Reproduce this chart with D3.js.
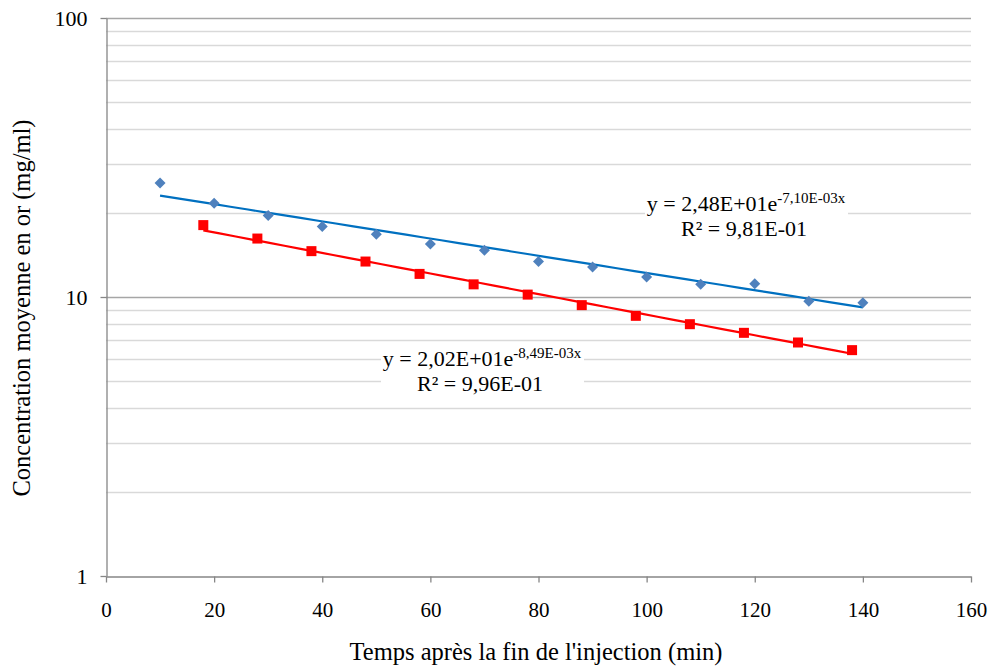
<!DOCTYPE html>
<html>
<head>
<meta charset="utf-8">
<script src="https://cdn.jsdelivr.net/npm/d3@7"></script>
<style>
  body { margin: 0; background: #fff; }
  text { font-family: "Liberation Serif", "Times New Roman", serif; fill: #000; }
</style>
</head>
<body>
<div id="chart"></div>
<script>
// blue series (diamonds)
const blueTimes = [10, 20, 30, 40, 50, 60, 70, 80, 90, 100, 110, 120, 130, 140];
const blueValues = [25.6, 21.7, 19.6, 17.9, 16.8, 15.5, 14.7, 13.4, 12.8, 11.8, 11.1, 11.15, 9.66, 9.53];
// red series (squares)
const redTimes = [18, 28, 38, 48, 58, 68, 78, 88, 98, 108, 118, 128, 138];
const redValues = [18.1, 16.2, 14.6, 13.4, 12.1, 11.1, 10.2, 9.35, 8.56, 7.99, 7.44, 6.87, 6.45];
// exponential fits y = a e^(b x)
const blueFit = {a: 24.8, b: -7.10e-3};
const redFit = {a: 20.2, b: -8.49e-3};
const xTicks = [0, 20, 40, 60, 80, 100, 120, 140, 160];
const yTicks = [1, 10, 100];

const width = 992, height = 666,
      margin = ({top: 18, right: 21, bottom: 90, left: 106});

const svg = d3.select("#chart")
    .append("svg")
    .attr("width", width)
    .attr("height", height);

const x = d3.scaleLinear()
    .domain([0, 160])
    .range([margin.left, width - margin.right]);

const y = d3.scaleLog()
    .domain([1, 100])
    .range([height - margin.bottom, margin.top]);

// gridlines: minor first, then decades
let minor = [];
for (let d of [1, 10]) for (let k = 2; k <= 9; k++) minor.push(d * k);

svg.append("g")
    .selectAll("line")
    .data(minor)
    .join("line")
    .attr("x1", x(0)).attr("x2", x(160))
    .attr("y1", d => Math.round(y(d)) + 0.5).attr("y2", d => Math.round(y(d)) + 0.5)
    .attr("stroke", "#d9d9d9")
    .attr("stroke-width", 1.3);

svg.append("g")
    .selectAll("line")
    .data([10, 100])
    .join("line")
    .attr("x1", x(0)).attr("x2", x(160))
    .attr("y1", d => Math.round(y(d)) + 0.5).attr("y2", d => Math.round(y(d)) + 0.5)
    .attr("stroke", "#a6a6a6")
    .attr("stroke-width", 1.3);

// axes
const xAxis = g => g
    .attr("transform", `translate(0,${Math.round(y(1)) + 0.5})`)
    .call(d3.axisBottom(x).tickValues(xTicks).tickSize(6).tickPadding(20).tickSizeOuter(0))
    .call(g => g.selectAll(".domain, line").attr("stroke", "#868686").attr("stroke-width", 1.3))
    .call(g => g.selectAll("text").attr("font-size", 21).attr("font-family", "Liberation Serif"));

const yAxis = g => g
    .attr("transform", `translate(${Math.round(x(0)) + 0.5},0)`)
    .call(d3.axisLeft(y).tickValues(yTicks).tickFormat(d3.format("d")).tickSize(6).tickPadding(13).tickSizeOuter(0))
    .call(g => g.selectAll(".domain, line").attr("stroke", "#868686").attr("stroke-width", 1.3))
    .call(g => g.selectAll("text").attr("font-size", 22).attr("font-family", "Liberation Serif"));

svg.append("g").call(xAxis);
svg.append("g").call(yAxis);

// trend lines
const fitLine = (fit, x0, x1) => d3.range(0, 41).map(i => {
    const t = x0 + (x1 - x0) * i / 40;
    return [t, fit.a * Math.exp(fit.b * t)];
});

const line = d3.line()
    .x(d => x(d[0]))
    .y(d => y(d[1]));

svg.append("path")
    .datum(fitLine(blueFit, d3.min(blueTimes), d3.max(blueTimes)))
    .attr("d", line)
    .attr("fill", "none")
    .attr("stroke", "#0070c0")
    .attr("stroke-width", 2.2);

svg.append("path")
    .datum(fitLine(redFit, d3.min(redTimes), d3.max(redTimes)))
    .attr("d", line)
    .attr("fill", "none")
    .attr("stroke", "#ff0000")
    .attr("stroke-width", 2.2);

// markers
svg.append("g")
    .selectAll("path")
    .data(blueTimes.map((t, i) => [t, blueValues[i]]))
    .join("path")
    .attr("transform", d => `translate(${x(d[0])},${y(d[1])})`)
    .attr("d", "M0,-5.5L5.5,0L0,5.5L-5.5,0Z")
    .attr("fill", "#4f81bd");

svg.append("g")
    .selectAll("rect")
    .data(redTimes.map((t, i) => [t, redValues[i]]))
    .join("rect")
    .attr("x", d => x(d[0]) - 5)
    .attr("y", d => y(d[1]) - 5)
    .attr("width", 10)
    .attr("height", 10)
    .attr("fill", "#ff0000");

// equation labels
function eqLabel(cx, cy, a, b, r2) {
    const g = svg.append("g");
    g.append("rect")
        .attr("x", cx - 101).attr("y", cy - 24)
        .attr("width", 203).attr("height", 56)
        .attr("fill", "#fff");
    const t1 = g.append("text")
        .attr("x", cx).attr("y", cy)
        .attr("text-anchor", "middle")
        .attr("font-size", 22);
    t1.append("tspan").text("y = " + a + "e");
    t1.append("tspan").attr("font-size", 15).attr("dy", -8).text(b + "x");
    g.append("text")
        .attr("x", cx - 2).attr("y", cy + 25)
        .attr("text-anchor", "middle")
        .attr("font-size", 22)
        .text("R² = " + r2);
}

eqLabel(746, 211, "2,48E+01", "-7,10E-03", "9,81E-01");
eqLabel(482, 366, "2,02E+01", "-8,49E-03", "9,96E-01");

// axis titles
svg.append("text")
    .attr("x", 536)
    .attr("y", 660)
    .attr("text-anchor", "middle")
    .attr("font-size", 24.5)
    .text("Temps après la fin de l'injection (min)");

svg.append("text")
    .attr("transform", "translate(30,308) rotate(-90)")
    .attr("text-anchor", "middle")
    .attr("font-size", 24.5)
    .text("Concentration moyenne en or (mg/ml)");
</script>
</body>
</html>
